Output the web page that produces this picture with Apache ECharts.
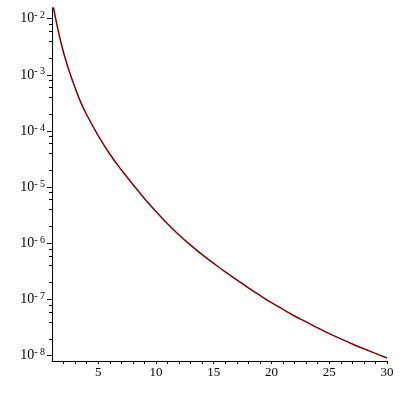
<!DOCTYPE html>
<html>
<head>
<meta charset="utf-8">
<script src="https://cdn.jsdelivr.net/npm/echarts@6/dist/echarts.min.js"></script>
<style>
  html, body { margin: 0; padding: 0; background: #fff; }
  #chart { width: 400px; height: 400px; }
</style>
</head>
<body>
<div id="chart"></div>
<script>
  // values (y is plotted on a log10 scale)
  let xValues = [1, 1.5, 2, 2.5, 3, 3.5, 4, 5, 6, 7, 8, 9, 10, 11, 12, 13, 14, 15,
    16, 17, 18, 19, 20, 21, 22, 23, 24, 25, 26, 27, 28, 29, 30]
  let yValues = [2.19e-2, 6.6e-3, 2.5e-3, 1.15e-3, 5.9e-4, 3.2e-4, 1.95e-4, 8.3e-5, 3.9e-5,
    2.04e-5, 1.12e-5, 6.3e-6, 3.7e-6, 2.24e-6, 1.41e-6, 9.3e-7, 6.3e-7, 4.4e-7,
    3.1e-7, 2.24e-7, 1.62e-7, 1.19e-7, 8.8e-8, 6.7e-8, 5.1e-8, 4.0e-8, 3.13e-8,
    2.48e-8, 2.0e-8, 1.62e-8, 1.33e-8, 1.10e-8, 9.1e-9]
  let xTickLabels = [5, 10, 15, 20, 25, 30]
  let yTickExps = [-8, -7, -6, -5, -4, -3, -2]
  let yMinorMantissas = [2, 4, 6, 8]

  let yMin = -8.094
  let yMax = -1.81

  let xMinorTicks = []
  for (let i = 2; i <= 30; i++) xMinorTicks.push(i)
  let yMinorTicks = []
  for (let e = -9; e <= -2; e++) {
    yMinorMantissas.forEach(m => {
      let v = Math.log10(m) + e
      if (v > yMin && v < yMax) yMinorTicks.push(v)
    })
  }

  let serif = 'Liberation Serif'

  let chart = echarts.init(document.getElementById('chart'))
  chart.setOption({
    animation: false,
    grid: { left: 52, right: 13, top: 8, bottom: 39 },
    xAxis: {
      type: 'value',
      min: 1,
      max: 30,
      axisLine: { lineStyle: { color: '#000', width: 1 } },
      axisTick: { customValues: xMinorTicks, length: 3, lineStyle: { color: '#000' } },
      axisLabel: {
        customValues: xTickLabels,
        margin: 5,
        fontFamily: serif,
        fontSize: 13,
        color: '#000'
      },
      splitLine: { show: false }
    },
    yAxis: [
      {
        type: 'value',
        min: yMin,
        max: yMax,
        axisLine: { show: true, lineStyle: { color: '#000', width: 1 } },
        axisTick: { show: true, customValues: yTickExps, length: 5, lineStyle: { color: '#000' } },
        axisLabel: {
          customValues: yTickExps,
          margin: 7,
          formatter: v => '{b|10}{s|- ' + Math.round(-v) + '}',
          rich: {
            b: { fontFamily: serif, fontSize: 14, color: '#000', lineHeight: 16 },
            s: { fontFamily: serif, fontSize: 10, color: '#000', verticalAlign: 'top', lineHeight: 10 }
          }
        },
        splitLine: { show: false }
      },
      {
        type: 'value',
        position: 'left',
        min: yMin,
        max: yMax,
        axisLine: { show: false },
        axisTick: { show: true, customValues: yMinorTicks, length: 3, lineStyle: { color: '#000' } },
        axisLabel: { show: false },
        splitLine: { show: false }
      }
    ],
    series: [
      {
        type: 'line',
        data: xValues.map((x, i) => [x, Math.log10(yValues[i])]),
        smooth: 0.4,
        showSymbol: false,
        clip: true,
        lineStyle: { color: '#800000', width: 1.5 }
      }
    ]
  })
</script>
</body>
</html>
